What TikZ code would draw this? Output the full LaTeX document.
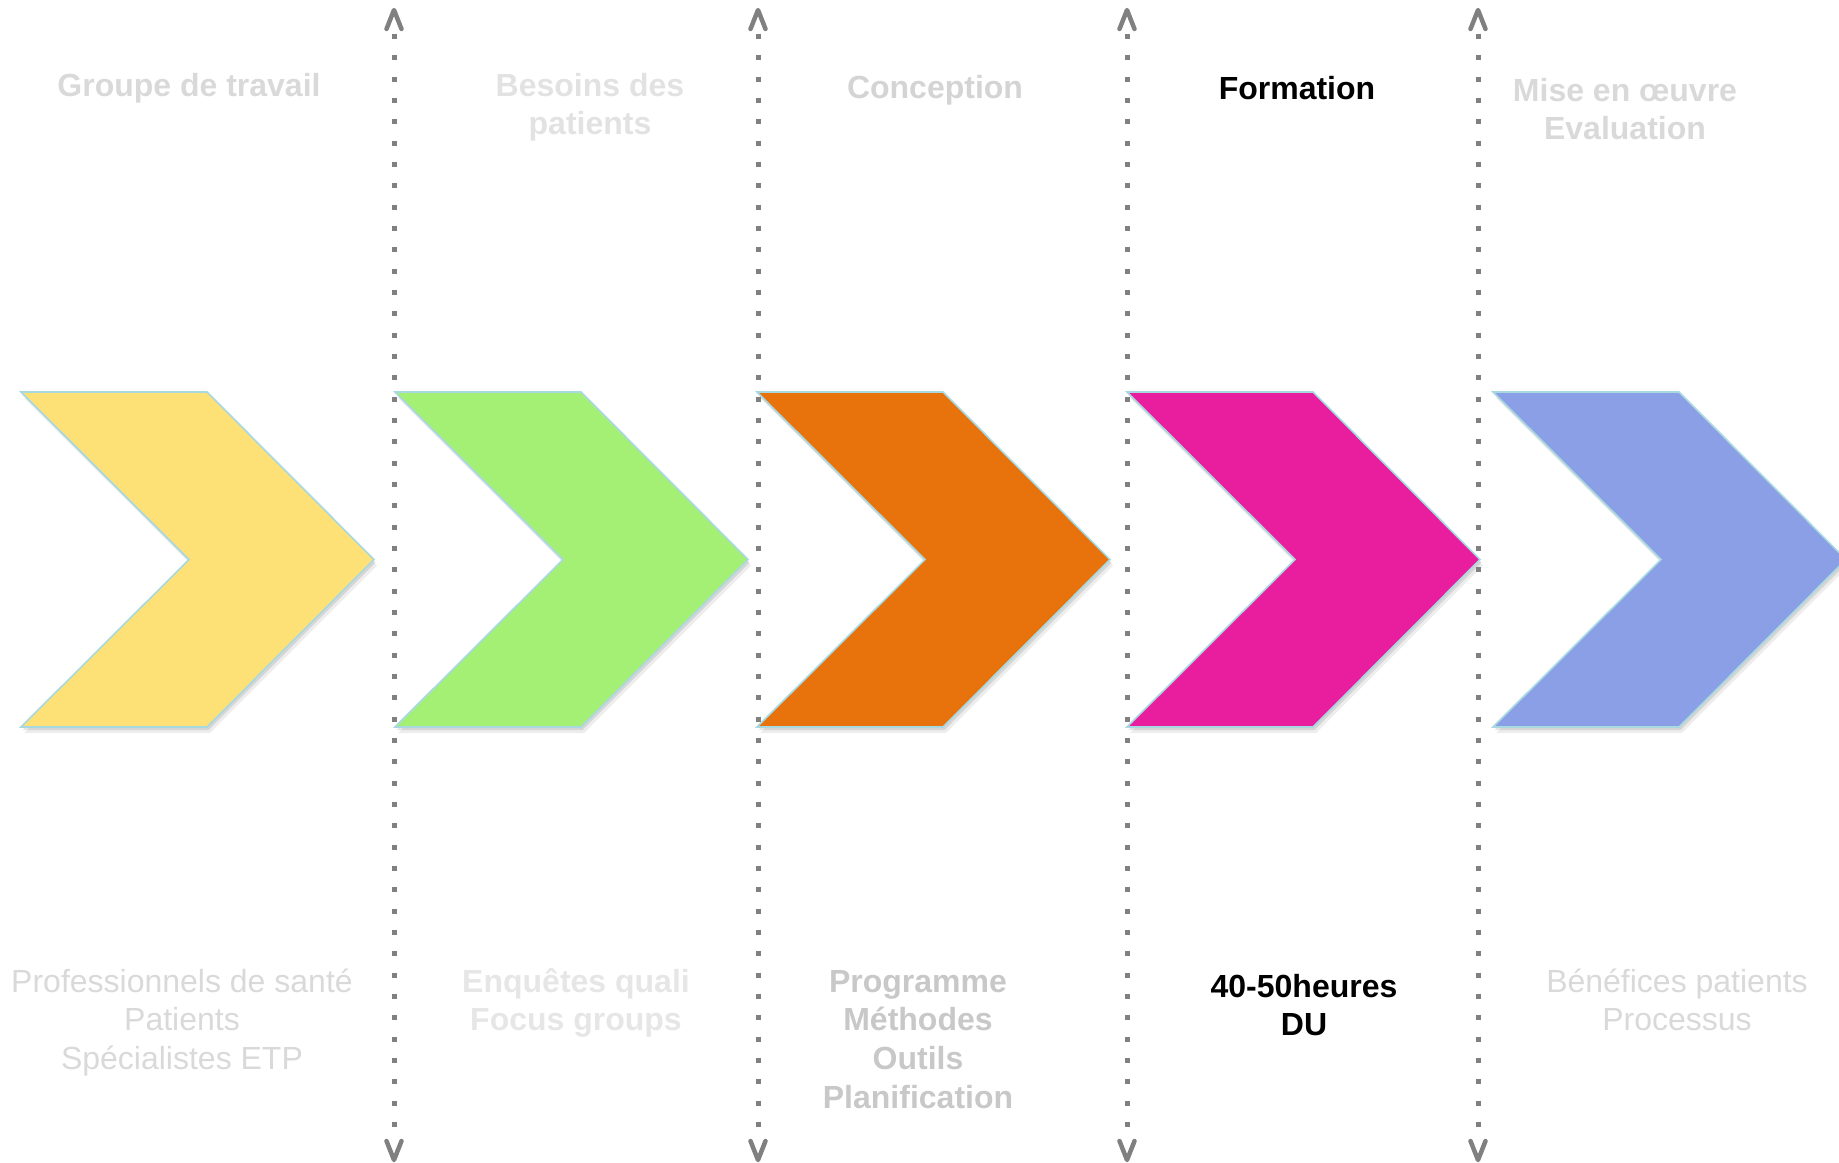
\documentclass[tikz,border=0pt]{standalone}
\usepackage{fontspec}
\setmainfont{Liberation Sans}
\usetikzlibrary{calc}

\definecolor{cyellow}{RGB}{253,224,118}
\definecolor{cgreen}{RGB}{164,240,117}
\definecolor{corange}{RGB}{232,114,12}
\definecolor{cpink}{RGB}{232,30,158}
\definecolor{cblue}{RGB}{138,159,230}
\definecolor{edgeblue}{RGB}{168,216,224}
\definecolor{dotgray}{RGB}{128,128,128}
\definecolor{txtA}{RGB}{217,217,217}
\definecolor{txtB}{RGB}{226,226,226}
\definecolor{txtC}{RGB}{212,212,212}
\definecolor{txtD}{RGB}{230,230,230}
\definecolor{txtE}{RGB}{200,200,200}

\tikzset{
  pics/chev/.style={code={
    % soft shadow under the chevron
    \fill[black, opacity=0.07, shift={(3,6)}]
      (0,0) -- (186,0) -- (353,167.5) -- (186,335) -- (0,335) -- (168,167.5) -- cycle;
    \fill[black, opacity=0.10, shift={(1.5,3)}]
      (0,0) -- (186,0) -- (353,167.5) -- (186,335) -- (0,335) -- (168,167.5) -- cycle;
    \filldraw[fill=#1, draw=edgeblue, line width=1.6pt, line join=miter]
      (0,0) -- (186,0) -- (353,167.5) -- (186,335) -- (0,335) -- (168,167.5) -- cycle;
  }},
  divider/.style={draw=dotgray, line width=5pt, dash pattern=on 5pt off 16.33pt},
  tiphead/.style={draw=dotgray, line width=4.5pt, line cap=round, line join=round},
  hd/.style={align=center, inner sep=0pt, anchor=base,
    font=\fontsize{32}{38.7}\selectfont\bfseries},
  bt/.style={align=center, inner sep=0pt, anchor=base,
    font=\fontsize{32}{38.7}\selectfont},
}

\begin{document}
\begin{tikzpicture}[x=1pt, y=-1pt]
\useasboundingbox (0,0) rectangle (1839,1162);

% the five stage chevrons
\pic at (21,392)   {chev=cyellow};
\pic at (395,392)  {chev=cgreen};
\pic at (757,392)  {chev=corange};
\pic at (1127,392) {chev=cpink};
\pic at (1493,392) {chev=cblue};

% end points of the vertical separators
\coordinate (d1t) at (394,10);   \coordinate (d1b) at (394,1160);
\coordinate (d2t) at (758,10);   \coordinate (d2b) at (758,1160);
\coordinate (d3t) at (1127,10);  \coordinate (d3b) at (1127,1160);
\coordinate (d4t) at (1478,10);  \coordinate (d4b) at (1478,1160);

% dotted double-headed separators
\foreach \d in {d1,d2,d3,d4}{
  \draw[divider] ($(\d t)+(0,24)$) -- ($(\d b)+(0,-32)$);
  \draw[tiphead] ($(\d t)+(-7.5,19)$) -- (\d t) -- ($(\d t)+(7.5,19)$);
  \draw[tiphead] ($(\d b)+(-7.5,-19)$) -- (\d b) -- ($(\d b)+(7.5,-19)$);
}

% stage titles (the base anchor sits on the last line)
\node[hd, text=txtA] (h1) at (189,96)    {Groupe de travail};
\node[hd, text=txtB] (h2) at (590,134.7) {Besoins des\\patients};
\node[hd, text=txtC] (h3) at (935,98)    {Conception};
\node[hd, text=black] (h4) at (1297,99)  {Formation};
\node[hd, text=txtA] (h5) at (1625,139.7) {Mise en œuvre\\Evaluation};

% stage details
\node[bt, text=txtA] (b1) at (182,1069.4) {Professionnels de santé\\Patients\\Spécialistes ETP};
\node[hd, text=txtD] (b2) at (576,1030.7) {Enquêtes quali\\Focus groups};
\node[hd, text=txtE] (b3) at (918,1108.1) {Programme\\Méthodes\\Outils\\Planification};
\node[hd, text=black] (b4) at (1304,1035.7) {40-50heures\\DU};
\node[bt, text=txtA] (b5) at (1677,1030.7) {Bénéfices patients\\Processus};
\end{tikzpicture}
\end{document}
